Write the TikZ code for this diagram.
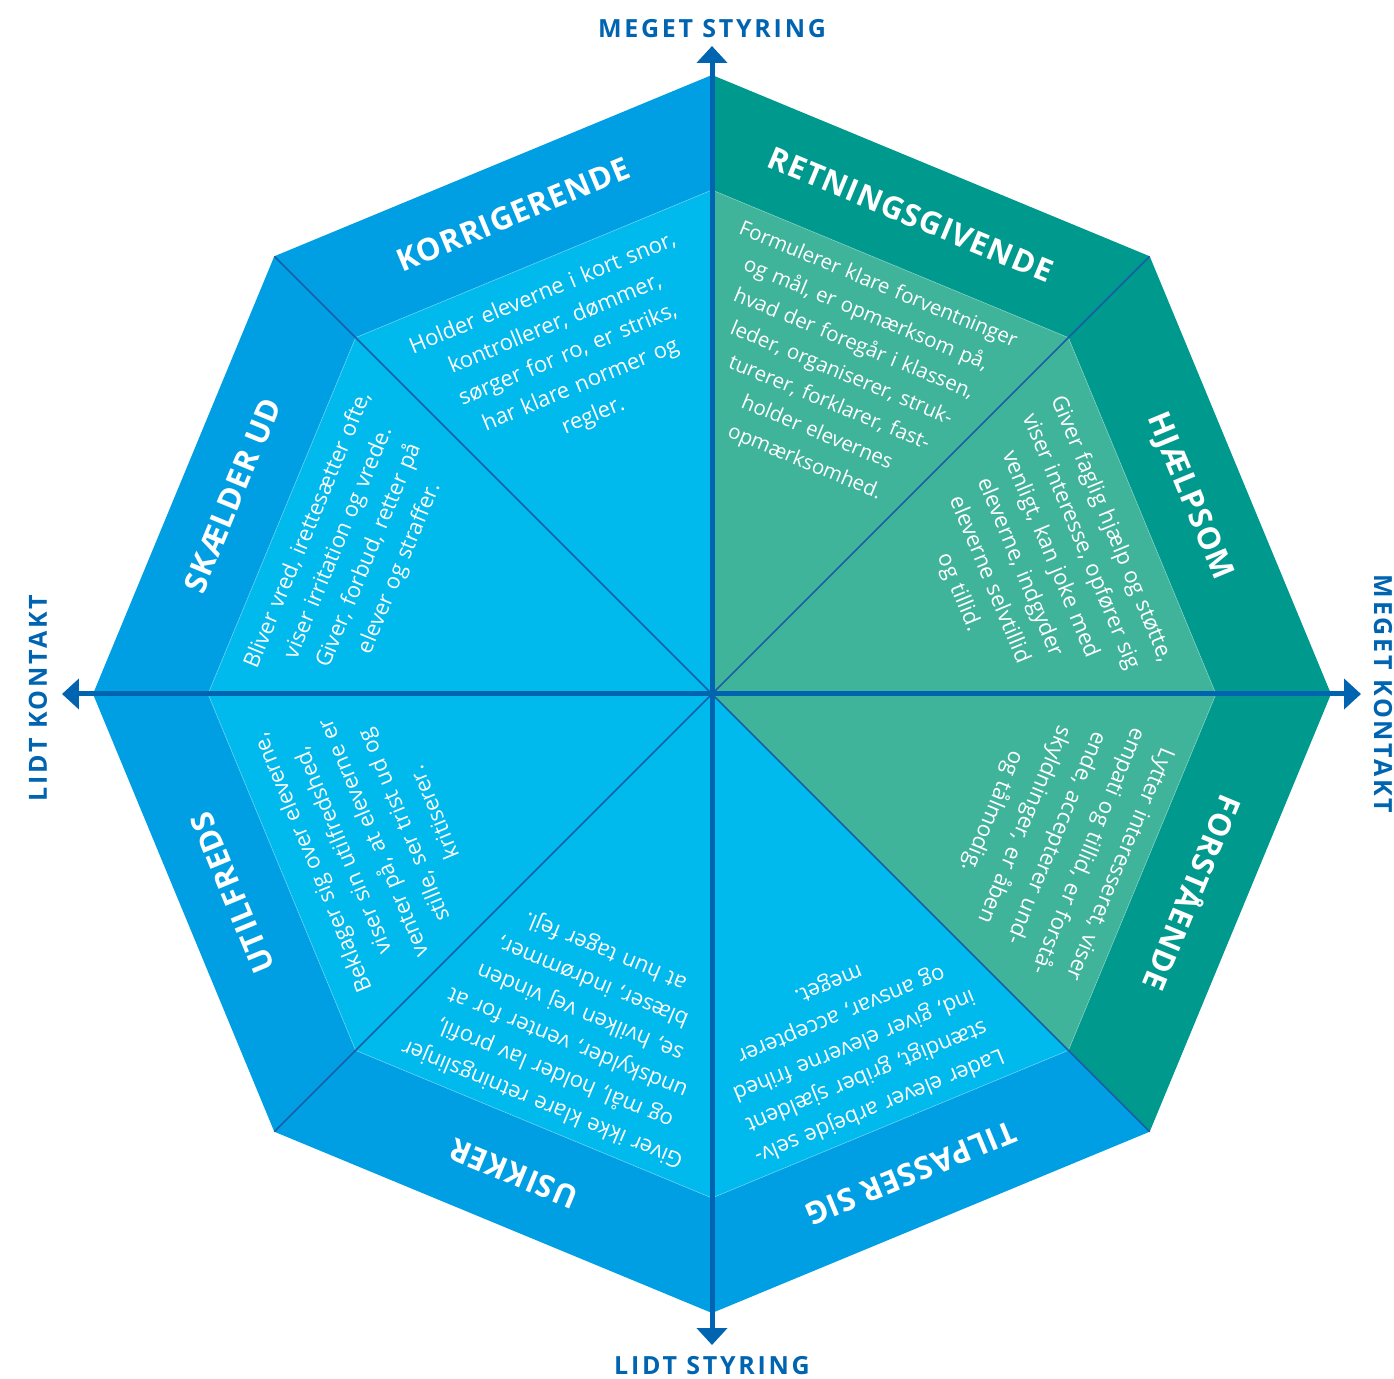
\documentclass[tikz,border=0pt]{standalone}
\usepackage{fontspec}
\setmainfont{Open Sans}
\newfontfamily\labfont{Open Sans}[LetterSpace=3]
\newfontfamily\axfont{Open Sans}[LetterSpace=11]
\usetikzlibrary{arrows.meta}
\definecolor{blueO}{HTML}{009FE3}
\definecolor{blueI}{HTML}{00B9ED}
\definecolor{tealO}{HTML}{00998E}
\definecolor{tealI}{HTML}{40B49A}
\definecolor{axc}{HTML}{0064B0}
\definecolor{diagc}{HTML}{1A5FA6}
\tikzset{
  lab/.style={text=white, font=\labfont\bfseries\fontsize{31}{34}\selectfont, inner sep=0pt, text height=22pt, text depth=0pt},
  body/.style={text=white, font=\fontsize{22}{33}\selectfont, text width=380pt, align=center, inner sep=0pt},
  bodyn/.style={body, font=\fontsize{20.5}{32}\selectfont},
  bodyw/.style={body, font=\fontsize{22}{34.5}\selectfont},
  axlab/.style={text=axc, font=\axfont\bfseries\fontsize{25}{27}\selectfont, inner sep=0pt, text height=18pt, text depth=0pt},
  diag/.style={draw=diagc, line width=1.6pt},
  axis/.style={draw=axc, line width=5pt, {Triangle[width=30pt,length=17pt]}-{Triangle[width=30pt,length=17pt]}},
  rim/.style={draw=white, draw opacity=0.25, line width=0.8pt}
}
\begin{document}
\begin{tikzpicture}[x=1pt,y=1pt]
\useasboundingbox (-712,-684) rectangle (682,694);
\def\Ro{619}
\def\Ri{504}
\coordinate (c) at (0,0);
\foreach \i in {0,...,7}{
  \coordinate (v\i) at (\i*45:\Ro);
  \coordinate (w\i) at (\i*45:\Ri);
}
\foreach \a/\co/\ci in {0/tealO/tealI,45/tealO/tealI,90/blueO/blueI,135/blueO/blueI,180/blueO/blueI,225/blueO/blueI,270/blueO/blueI,315/tealO/tealI}{
  \fill[\co] (\a:\Ro) -- (\a+45:\Ro) -- (\a+45:\Ri) -- (\a:\Ri) -- cycle;
  \fill[\ci] (0,0) -- (\a:\Ri) -- (\a+45:\Ri) -- cycle;
}
\draw[rim] (w0) -- (w1) -- (w2) -- (w3) -- (w4) -- (w5) -- (w6) -- (w7) -- cycle;
\draw[diag] (c) -- (v1);
\draw[diag] (c) -- (v3);
\draw[diag] (c) -- (v5);
\draw[diag] (c) -- (v7);
% axes
\coordinate (atop) at (0,648);
\coordinate (abot) at (0,-651);
\coordinate (alft) at (-650,0);
\coordinate (argt) at (649,0);
\draw[axis] (abot) -- (atop);
\draw[axis] (alft) -- (argt);
% axis labels
\node[axlab] (lt) at (0,665) {MEGET STYRING};
\node[axlab] (lb) at (0,-671) {LIDT STYRING};
\node[axlab, rotate=90] (ll) at (-674,-4) {LIDT KONTAKT};
\node[axlab, rotate=-90] (lr) at (671,0) {MEGET KONTAKT};
% sector labels
\node[lab, rotate=22.5] (korL) at (112.5:519) {KORRIGERENDE};
\node[lab, rotate=-22.5] (retL) at (67.5:519) {RETNINGSGIVENDE};
\node[lab, rotate=-67.5] (hjaL) at (22.5:519) {HJÆLPSOM};
\node[lab, rotate=-112.5] (forL) at (-22.5:519) {FORSTÅENDE};
\node[lab, rotate=-157.5] (tilL) at (-67.5:519) {TILPASSER SIG};
\node[lab, rotate=157.5] (usiL) at (-112.5:519) {USIKKER};
\node[lab, rotate=112.5] (utiL) at (-157.5:519) {UTILFREDS};
\node[lab, rotate=67.5] (skaL) at (157.5:519) {SKÆLDER UD};
% body texts
\node[body, rotate=22.5] (korB) at (113:368) {Holder eleverne i kort snor,\\kontrollerer, dømmer,\\sørger for ro, er striks,\\har klare normer og\\regler.};
\node[bodyn, rotate=-22.5] (retB) at (68:345) {Formulerer klare forventninger\\og mål, er opmærksom på,\\hvad der foregår i klassen,\\leder, organiserer, struk-\\turerer, forklarer, fast-\\holder elevernes\\opmærksomhed.};
\node[body, rotate=-67.5] (hjaB) at (22.4:349) {Giver faglig hjælp og støtte,\\viser interesse, opfører sig\\venligt, kan joke med\\eleverne, indgyder\\eleverne selvtillid\\og tillid.};
\node[bodyw, rotate=-112.5] (forB) at (-22.7:372) {Lytter interesseret, viser\\empati og tillid, er forstå-\\ende, accepterer und-\\skyldninger, er åben\\og tålmodig.};
\node[body, rotate=-157.5] (tilB) at (-68:378) {Lader elever arbejde selv-\\stændigt, griber sjældent\\ind, giver eleverne frihed\\og ansvar, accepterer\\meget.};
\node[body, rotate=157.5] (usiB) at (-112.5:360) {Giver ikke klare retningslinjer\\og mål, holder lav profil,\\undskylder, venter for at\\se, hvilken vej vinden\\blæser, indrømmer,\\at hun tager fejl.};
\node[body, rotate=112.5] (utiB) at (-157:369) {Beklager sig over eleverne,\\viser sin utilfredshed,\\venter på, at eleverne er\\stille, ser trist ud og\\kritiserer.};
\node[body, rotate=67.5] (skaB) at (158:386) {Bliver vred, irettesætter ofte,\\viser irritation og vrede.\\Giver, forbud, retter på\\elever og straffer.};
\end{tikzpicture}
\end{document}
